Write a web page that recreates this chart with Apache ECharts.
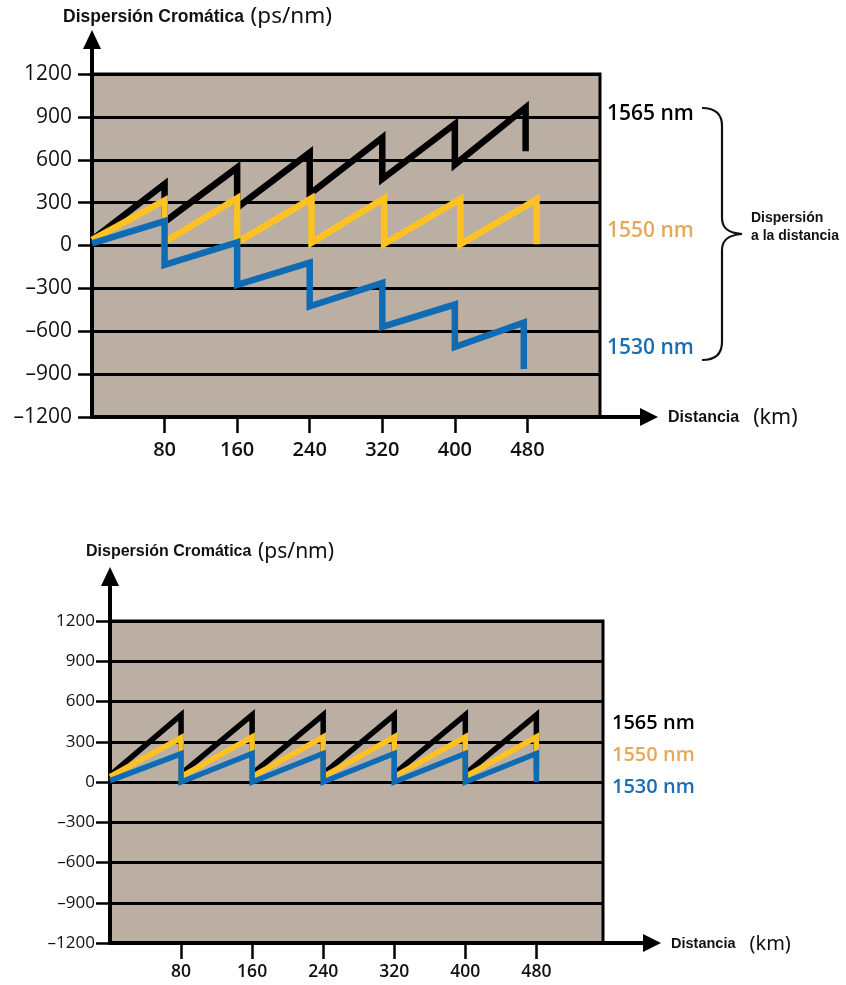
<!DOCTYPE html>
<html>
<head>
<meta charset="utf-8">
<script src="https://cdn.jsdelivr.net/npm/echarts@6/dist/echarts.min.js"></script>
<style>
  html, body { margin: 0; padding: 0; background: #fff; }
  #chart-panel { width: 846px; height: 985px; }
</style>
</head>
<body>
<div id="chart-panel"></div>
<script>
// tick labels on the distance axis (km)
const kmTicks = [80, 160, 240, 320, 400, 480];
const seriesNames = ['1565 nm', '1550 nm', '1530 nm'];

// upper chart: partial compensation, dispersion drifts per wavelength
const upper1565 = [[0,40],[80,430],[80,165],[160,545],[160,265],[240,650],[240,360],[320,755],[320,465],[400,850],[400,566],[478,965],[478,660]];
const upper1550 = [[0,40],[80,315],[80,25],[160,330],[160,20],[242,330],[242,20],[322,330],[322,12],[406,325],[406,8],[490,322],[490,8]];
const upper1530 = [[0,15],[80,170],[80,-135],[160,22],[160,-275],[240,-120],[240,-425],[320,-262],[320,-570],[400,-413],[400,-710],[476,-540],[476,-865]];

// lower chart: slope-matched compensation, every span returns near zero
const lower1565 = [[0,50],[80,500],[80,60],[160,500],[160,60],[240,500],[240,60],[320,500],[320,60],[400,500],[400,60],[480,500],[480,60]];
const lower1550 = [[0,40],[80,330],[80,40],[160,335],[160,40],[240,335],[240,40],[320,335],[320,40],[400,335],[400,40],[480,335],[480,40]];
const lower1530 = [[0,10],[80,210],[80,0],[160,212],[160,0],[240,212],[240,0],[320,212],[320,0],[400,212],[400,0],[480,212],[480,0]];

const lineColors = ['#000000', '#ffc222', '#0f6cb4'];
const labelColors = ['#000000', '#e6a85a', '#1a6db3'];

var myChart = echarts.init(document.getElementById('chart-panel'));

function xAxisFor(gi, maxKm, fontSize, margin) {
  return {
    gridIndex: gi, type: 'value', min: 0, max: maxKm,
    axisLine: { show: true, onZero: false, lineStyle: { color: '#000', width: 4 } },
    axisTick: { show: true, customValues: kmTicks, length: 16, lineStyle: { color: '#000', width: 2.5 } },
    axisLabel: { customValues: kmTicks, margin: margin, color: '#111', fontFamily: 'Open Sans', fontWeight: 600, fontSize: fontSize },
    splitLine: { show: false }
  };
}
function yAxisFor(gi, fontSize, margin) {
  return {
    gridIndex: gi, type: 'value', min: -1200, max: 1200, interval: 300,
    axisLine: { show: true, onZero: false, lineStyle: { color: '#000', width: 4 } },
    axisTick: { show: true, length: 14, lineStyle: { color: '#000', width: 2.5 } },
    axisLabel: {
      margin: margin, color: '#111', fontFamily: 'Open Sans', fontSize: fontSize,
      formatter: function (v) { return v < 0 ? '\u2013' + Math.abs(v) : String(v); }
    },
    splitLine: { show: true, lineStyle: { color: '#000', width: 3 } }
  };
}
function lineSeries(gi, name, data, color, width) {
  return {
    name: name, type: 'line', xAxisIndex: gi, yAxisIndex: gi,
    data: data, symbol: 'none', silent: true,
    lineStyle: { color: color, width: width, join: 'miter', cap: 'butt' }
  };
}

myChart.setOption({
  animation: false,
  grid: [
    { left: 92, top: 74, width: 508, height: 343, show: true, backgroundColor: '#bbafa3', borderColor: '#000', borderWidth: 3 },
    { left: 110, top: 621, width: 493, height: 322, show: true, backgroundColor: '#bbafa3', borderColor: '#000', borderWidth: 3 }
  ],
  xAxis: [xAxisFor(0, 560, 20, 23), xAxisFor(1, 555, 17.5, 20)],
  yAxis: [yAxisFor(0, 21, 20), yAxisFor(1, 17, 15)],
  series: [
    lineSeries(0, seriesNames[0], upper1565, lineColors[0], 6.5),
    lineSeries(0, seriesNames[1], upper1550, lineColors[1], 6.5),
    lineSeries(0, seriesNames[2], upper1530, lineColors[2], 6.5),
    lineSeries(1, seriesNames[0], lower1565, lineColors[0], 5.5),
    lineSeries(1, seriesNames[1], lower1550, lineColors[1], 5.5),
    lineSeries(1, seriesNames[2], lower1530, lineColors[2], 5.5)
  ]
});

// axis arrows, titles and labels
function decorations(gi, o) {
  const origin = myChart.convertToPixel({ gridIndex: gi }, [0, -1200]);
  const g = [];
  const ox = origin[0], oy = origin[1];
  g.push({ type: 'line', shape: { x1: ox, y1: oy, x2: o.xTip - 14, y2: oy }, style: { stroke: '#000', lineWidth: 4 } });
  g.push({ type: 'polygon', shape: { points: [[o.xTip, oy], [o.xTip - 18, oy - 9], [o.xTip - 18, oy + 9]] }, style: { fill: '#000' } });
  g.push({ type: 'line', shape: { x1: ox, y1: oy, x2: ox, y2: o.yTip + 14 }, style: { stroke: '#000', lineWidth: 4 } });
  g.push({ type: 'polygon', shape: { points: [[ox, o.yTip], [ox - 9, o.yTip + 19], [ox + 9, o.yTip + 19]] }, style: { fill: '#000' } });
  g.push({ type: 'text', x: o.titleX, y: o.titleY, style: {
    text: '{a|Dispersión Cromática}  {b|(ps/nm)}', verticalAlign: 'middle',
    rich: { a: { fontFamily: 'Liberation Sans', fontWeight: 'bold', fontSize: o.tSize, fill: '#111' },
            b: { fontFamily: 'Noto Sans', fontSize: o.tSize + 5, fill: '#111' } } } });
  g.push({ type: 'text', x: o.xTip + 10, y: oy + 1, style: {
    text: '{a|Distancia}{b|(km)}', verticalAlign: 'middle',
    rich: { a: { fontFamily: 'Liberation Sans', fontWeight: 'bold', fontSize: o.tSize - 1.5, fill: '#111', padding: [0, 14, 0, 0] },
            b: { fontFamily: 'Noto Sans', fontSize: o.tSize + 4, fill: '#111' } } } });
  o.labels.forEach(function (ly, i) {
    g.push({ type: 'text', x: o.labelX, y: ly, style: {
      text: seriesNames[i], verticalAlign: 'middle', fill: labelColors[i],
      fontFamily: 'Open Sans', fontWeight: 600, fontSize: o.lSize } });
  });
  return g;
}

const graphics = decorations(0, { xTip: 658, yTip: 30, titleX: 63, titleY: 17, tSize: 17.5, labelX: 607, labels: [114, 231, 348], lSize: 21 })
  .concat(decorations(1, { xTip: 661, yTip: 567, titleX: 86, titleY: 552, tSize: 16, labelX: 612, labels: [723, 755, 787], lSize: 20 }));

// curly brace grouping the three wavelengths
const braceStyle = { stroke: '#111', lineWidth: 2.2, fill: null };
graphics.push(
  { type: 'bezierCurve', shape: { x1: 702, y1: 108, cpx1: 716, cpy1: 108, cpx2: 722, cpy2: 114, x2: 722, y2: 126 }, style: braceStyle },
  { type: 'line', shape: { x1: 722, y1: 126, x2: 722, y2: 218 }, style: braceStyle },
  { type: 'bezierCurve', shape: { x1: 722, y1: 218, cpx1: 722, cpy1: 228, cpx2: 728, cpy2: 233, x2: 742, y2: 234 }, style: braceStyle },
  { type: 'bezierCurve', shape: { x1: 742, y1: 234, cpx1: 728, cpy1: 235, cpx2: 722, cpy2: 240, x2: 722, y2: 250 }, style: braceStyle },
  { type: 'line', shape: { x1: 722, y1: 250, x2: 722, y2: 342 }, style: braceStyle },
  { type: 'bezierCurve', shape: { x1: 722, y1: 342, cpx1: 722, cpy1: 354, cpx2: 716, cpy2: 360, x2: 702, y2: 360 }, style: braceStyle }
);
graphics.push({ type: 'text', x: 751, y: 218, style: { text: 'Dispersión', verticalAlign: 'middle', fontFamily: 'Liberation Sans', fontWeight: 'bold', fontSize: 14, fill: '#111' } });
graphics.push({ type: 'text', x: 751, y: 236, style: { text: 'a la distancia', verticalAlign: 'middle', fontFamily: 'Liberation Sans', fontWeight: 'bold', fontSize: 14, fill: '#111' } });

myChart.setOption({ graphic: graphics });
</script>
</body>
</html>
